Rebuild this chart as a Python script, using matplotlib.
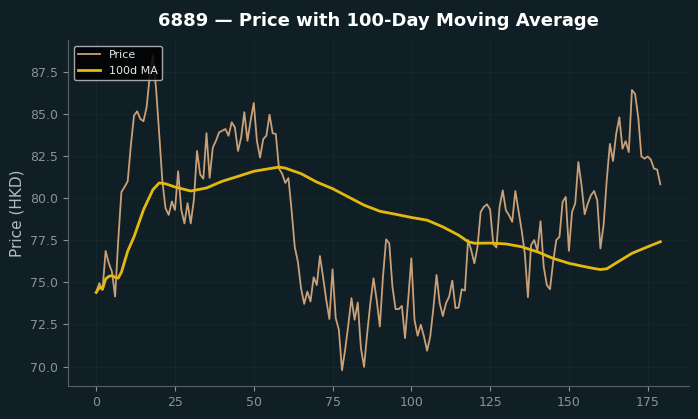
import matplotlib.pyplot as plt

# 日收盘价
price = [74.41, 74.95, 74.55, 76.86, 76.13, 75.63, 74.15, 77.5, 80.36, 80.66,
         81.0, 83.12, 84.9, 85.15, 84.7, 84.56, 85.39, 87.26, 88.45, 86.5,
         83.8, 81.0, 79.4, 79.0, 79.8, 79.3, 81.6, 79.3, 78.5, 79.7,
         78.5, 79.9, 82.8, 81.4, 81.15, 83.85, 81.2, 83.0, 83.4, 83.9,
         84.0, 84.1, 83.7, 84.5, 84.2, 82.8, 83.6, 85.1, 83.4, 84.6,
         85.65, 83.4, 82.4, 83.5, 83.7, 84.95, 83.85, 83.8, 81.75, 81.45,
         80.9, 81.19, 79.28, 77.11, 76.22, 74.65, 73.72, 74.45, 73.86, 75.3,
         74.84, 76.56, 75.3, 73.96, 72.82, 75.77, 72.88, 72.18, 69.78, 71.0,
         72.48, 74.06, 72.78, 73.8, 71.1, 69.98, 71.99, 73.76, 75.24, 73.96,
         72.38, 75.34, 77.55, 77.31, 74.75, 73.41, 73.41, 73.6, 71.69, 73.96,
         76.42, 72.78, 71.83, 72.48, 71.79, 70.94, 71.79, 73.47, 75.44, 73.76,
         73.0, 73.76, 74.15, 75.1, 73.47, 73.5, 74.59, 74.51, 77.51, 76.91,
         76.13, 77.11, 79.18, 79.48, 79.63, 79.32, 77.27, 77.07, 79.48, 80.46,
         79.28, 78.98, 78.59, 80.42, 79.28, 78.1, 76.72, 74.12, 77.21, 77.51,
         76.86, 78.63, 75.93, 74.84, 74.59, 76.22, 77.51, 77.7, 79.77, 80.07,
         76.87, 79.18, 79.68, 82.14, 80.76, 79.04, 79.68, 80.17, 80.42, 79.87,
         77.01, 78.39, 81.05, 83.22, 82.2, 83.81, 84.8, 82.93, 83.38, 82.73,
         86.42, 86.18, 84.8, 82.47, 82.34, 82.47, 82.28, 81.75, 81.69, 80.82]
day = list(range(len(price)))

# 100日均线（读图估计的采样点）
ma_day = [0, 1, 2, 3, 4, 5, 6, 7, 8, 10, 12, 15, 18, 20, 22, 25, 30, 35, 40,
          45, 50, 55, 58, 60, 65, 70, 75, 80, 85, 90, 95, 100, 105, 110, 115,
          118, 120, 125, 130, 135, 140, 145, 150, 155, 158, 160, 162, 165, 170, 175, 179]
ma = [74.4, 74.7, 74.6, 75.2, 75.35, 75.4, 75.3, 75.25, 75.6, 76.85, 77.7, 79.3, 80.5, 80.9, 80.85,
      80.66, 80.42, 80.6, 81.0, 81.29, 81.59, 81.75, 81.84, 81.78, 81.45, 80.95, 80.56, 80.07,
      79.58, 79.22, 79.04, 78.85, 78.69, 78.29, 77.8, 77.41, 77.32, 77.33, 77.28, 77.11, 76.81,
      76.42, 76.13, 75.93, 75.82, 75.76, 75.8, 76.15, 76.72, 77.11, 77.41]

bg = '#101f26'
fig = plt.figure(figsize=(6.98, 4.19), dpi=100, facecolor=bg)
ax = fig.add_axes([0.0974, 0.0788, 0.889, 0.8257], facecolor=bg)

ax.plot(day, price, color='#c9a078', linewidth=1.3, label='Price')
ax.plot(ma_day, ma, color='#e3b90f', linewidth=2.0, label='100d MA')

ax.set_title('6889 — Price with 100-Day Moving Average', color='white',
             fontsize=13, fontweight='bold', pad=10)
ax.set_ylabel('Price (HKD)', color='#b4bcc0', fontsize=11)

ax.grid(True, color='#17262c', linewidth=0.8)
for s in ['top', 'right']:
    ax.spines[s].set_visible(False)
for s in ['left', 'bottom']:
    ax.spines[s].set_color('#5a5f62')
ax.tick_params(colors='#8a9397', labelsize=9)
ax.tick_params(axis='both', color='#8a9397')

leg = ax.legend(loc='upper left', fontsize=8, facecolor='black', edgecolor='#c0c4c6',
                framealpha=0.85)
for t in leg.get_texts():
    t.set_color('#e8e8e8')

plt.savefig('out.png', dpi=100, facecolor=bg)
